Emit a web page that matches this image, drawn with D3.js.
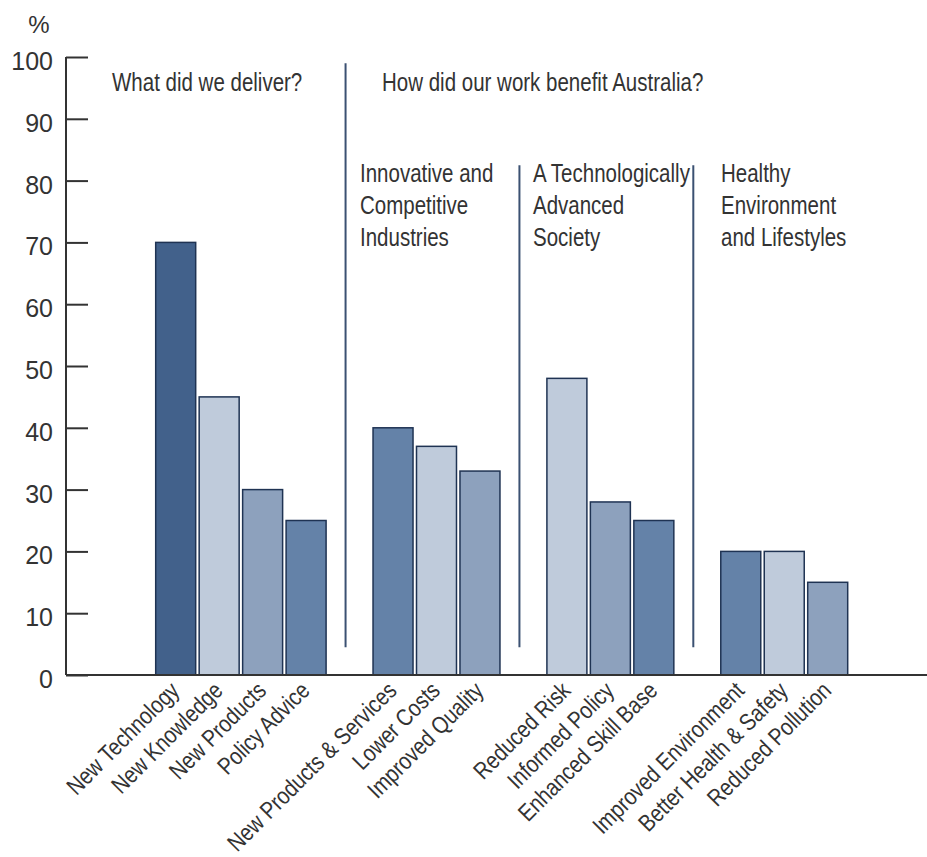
<!DOCTYPE html>
<html>
<head>
<meta charset="utf-8">
<script src="https://cdn.jsdelivr.net/npm/d3@7"></script>
<style>
  body { margin: 0; background: #fff; }
  svg { display: block; }
  .narrow { font-family: "Liberation Sans", Arial, sans-serif; fill: #333; }
  .tick-label { font-family: "Liberation Sans", Arial, sans-serif; fill: #333; }
</style>
</head>
<body>
<div id="chart"></div>
<script>
// Data
const categories = [
  "New Technology", "New Knowledge", "New Products", "Policy Advice",
  "gap1",
  "New Products & Services", "Lower Costs", "Improved Quality",
  "gap2",
  "Reduced Risk", "Informed Policy", "Enhanced Skill Base",
  "gap3",
  "Improved Environment", "Better Health & Safety", "Reduced Pollution"
];
const values = [70, 45, 30, 25, null, 40, 37, 33, null, 48, 28, 25, null, 20, 20, 15];
// shade index per bar: 0 dark, 1 light, 2 medium, 3 medium-dark
const shades = [0, 1, 2, 3, null, 3, 1, 2, null, 1, 2, 3, null, 3, 1, 2];
const yTicks = [0, 10, 20, 30, 40, 50, 60, 70, 80, 90, 100];

const palette = ["#42618b", "#bfcbdb", "#8da1bd", "#6482a8"];

const width = 927, height = 857;
const axisX = 66;
const baseY = 675, topY = 57;
const squeeze = 0.82; // fake a condensed face, no narrow font installed

const svg = d3.select("#chart").append("svg")
  .attr("width", width)
  .attr("height", height);

const x = d3.scaleBand()
  .domain(categories)
  .range([155.7, 847.7])
  .paddingInner(0.08)
  .paddingOuter(0);

const y = d3.scaleLinear().domain([0, 100]).range([baseY, topY]);

const bars = categories
  .map((c, i) => ({ name: c, value: values[i], shade: shades[i] }))
  .filter(d => d.value !== null);

// bars
svg.append("g")
  .selectAll("rect")
  .data(bars)
  .join("rect")
  .attr("x", d => x(d.name))
  .attr("y", d => y(d.value))
  .attr("width", x.bandwidth())
  .attr("height", d => y(0) - y(d.value))
  .attr("fill", d => palette[d.shade])
  .attr("stroke", "#1f3353")
  .attr("stroke-width", 1.5);

// separators between groups
const seps = [
  { key: "gap1", top: 99 },
  { key: "gap2", top: 82.5 },
  { key: "gap3", top: 82.5 }
];
svg.append("g")
  .selectAll("line")
  .data(seps)
  .join("line")
  .attr("x1", d => x(d.key) + x.bandwidth() / 2 - 4)
  .attr("x2", d => x(d.key) + x.bandwidth() / 2 - 4)
  .attr("y1", d => y(d.top))
  .attr("y2", y(4.5))
  .attr("stroke", "#3b5172")
  .attr("stroke-width", 2);

// y axis
const yAxis = svg.append("g")
  .attr("transform", `translate(${axisX},0)`)
  .call(d3.axisRight(y).tickValues(yTicks).tickSize(22).tickFormat(""));
yAxis.select(".domain").remove();
yAxis.selectAll(".tick line").attr("stroke", "#333").attr("stroke-width", 2);

svg.append("line")
  .attr("x1", axisX).attr("x2", axisX)
  .attr("y1", y(100)).attr("y2", y(0))
  .attr("stroke", "#333").attr("stroke-width", 2);

svg.append("line")
  .attr("x1", axisX).attr("x2", width)
  .attr("y1", y(0)).attr("y2", y(0))
  .attr("stroke", "#333").attr("stroke-width", 2);

svg.append("g")
  .selectAll("text")
  .data(yTicks)
  .join("text")
  .attr("class", "tick-label")
  .attr("x", 53)
  .attr("y", d => y(d) + 13)
  .attr("text-anchor", "end")
  .attr("font-size", 25)
  .text(d => d);

svg.append("text")
  .attr("class", "tick-label")
  .attr("x", 39).attr("y", 33)
  .attr("text-anchor", "middle")
  .attr("font-size", 24)
  .text("%");

// category labels
svg.append("g")
  .selectAll("text")
  .data(bars)
  .join("text")
  .attr("class", "narrow")
  .attr("font-size", 24)
  .attr("text-anchor", "end")
  .attr("transform", d => `translate(${x(d.name) + x.bandwidth() / 2 + 5},${baseY + 17}) rotate(-45) scale(${squeeze + 0.02},1)`)
  .text(d => d.name);

// group headers
const headers = [
  { lines: ["What did we deliver?"], x: 112, y: 91 },
  { lines: ["How did our work benefit Australia?"], x: 382, y: 91 },
  { lines: ["Innovative and", "Competitive", "Industries"], x: 360, y: 182 },
  { lines: ["A Technologically", "Advanced", "Society"], x: 533, y: 182 },
  { lines: ["Healthy", "Environment", "and Lifestyles"], x: 721, y: 182 }
];
const ht = svg.append("g")
  .selectAll("text")
  .data(headers)
  .join("text")
  .attr("class", "narrow")
  .attr("font-size", 25)
  .attr("transform", d => `translate(${d.x},${d.y}) scale(${squeeze},1)`);
ht.selectAll("tspan")
  .data(d => d.lines.map((l, i) => ({ l, i })))
  .join("tspan")
  .attr("x", 0)
  .attr("dy", d => d.i === 0 ? 0 : 32)
  .text(d => d.l);
</script>
</body>
</html>
